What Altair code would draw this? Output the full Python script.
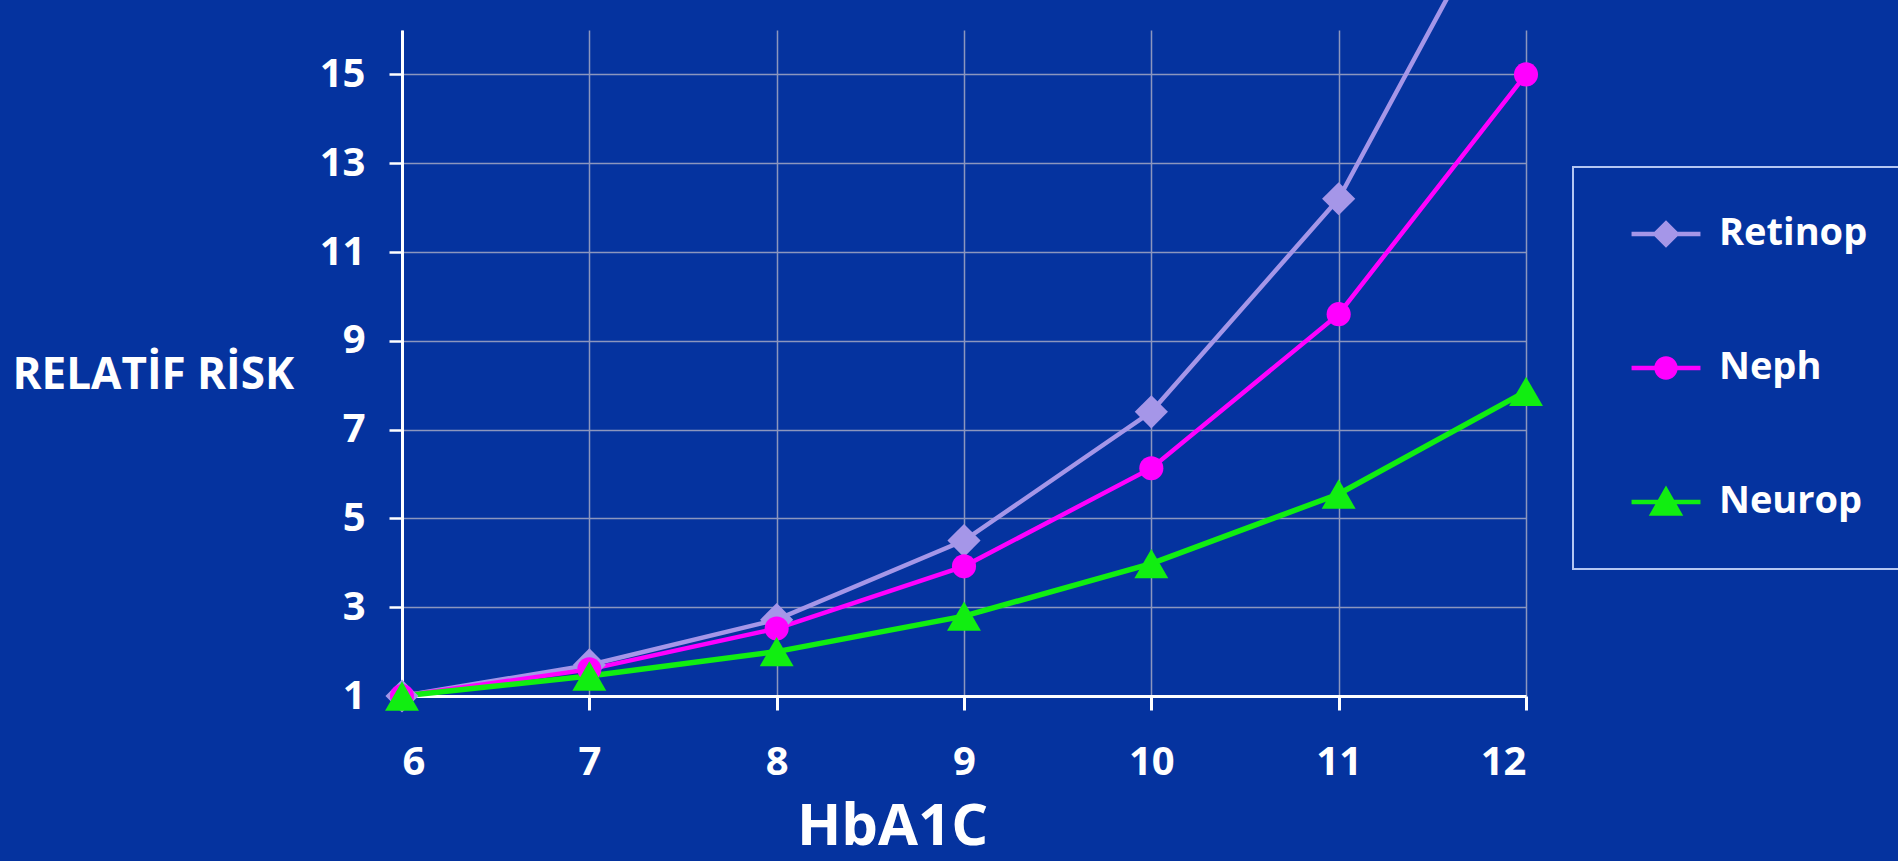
import altair as alt
import pandas as pd

# ---- data ----
hba1c = [6, 7, 8, 9, 10, 11, 12]
series = ["Retinop", "Neph", "Neurop"]
retinop = [1.0, 1.7, 2.72, 4.5, 7.4, 12.2, 20.0]
neph = [1.0, 1.6, 2.52, 3.92, 6.13, 9.6, 15.0]
neurop = [1.0, 1.45, 2.0, 2.8, 3.98, 5.55, 7.86]
y_ticks = [1, 3, 5, 7, 9, 11, 13, 15]

colors = ["#A596E8", "#FF00FF", "#11EE11"]
widths = [4.5, 4.5, 5.5]
shapes = ["diamond", "circle", "triangle-up"]
sizes = [1100, 580, 1150]

legend_paths = [
    "M0,-1L1,0L0,1L-1,0Z M-2.5,-0.17H2.5V0.17H-2.5Z",
    "M-0.85,0A0.85,0.85,0,1,1,0.85,0A0.85,0.85,0,1,1,-0.85,0Z M-2.5,-0.17H2.5V0.17H-2.5Z",
    "M0,-1.2L1.25,1L-1.25,1Z M-2.5,-0.17H2.5V0.17H-2.5Z",
]

rows = []
for name, vals in zip(series, [retinop, neph, neurop]):
    for x, v in zip(hba1c, vals):
        rows.append({"HbA1C": x, "risk": v, "series": name})
df = pd.DataFrame(rows)

FONT = "Open Sans"
W, H = 1124, 666

x_enc = alt.X(
    "HbA1C:Q",
    scale=alt.Scale(domain=[6, 12], nice=False, zero=False),
    axis=alt.Axis(
        values=hba1c, format="d", title="HbA1C",
        titleFontSize=58, titleFont=FONT, titleFontWeight="bold", titleColor="white",
        titleX=490, titleY=148, titleAlign="center", titleBaseline="alphabetic", titleAngle=0,
        labelFontSize=40, labelFont=FONT, labelFontWeight="bold", labelColor="white",
        labelPadding=32, tickSize=14, tickWidth=3, tickColor="white",
        domainColor="white", domainWidth=3,
        grid=True, gridColor="#8C96BE", gridWidth=1.5,
    ),
)
y_enc = alt.Y(
    "risk:Q",
    scale=alt.Scale(domain=[1, 16], nice=False, zero=False),
    axis=alt.Axis(
        values=y_ticks, format="d", title="RELATİF RİSK",
        titleFontSize=44, titleFont=FONT, titleFontWeight="bold", titleColor="white",
        titleAngle=0, titleX=-390, titleY=358, titleAlign="left", titleBaseline="alphabetic",
        labelFontSize=40, labelFont=FONT, labelFontWeight="bold", labelColor="white",
        labelPadding=24, tickSize=13, tickWidth=2.5, tickColor="white",
        domainColor="white", domainWidth=3,
        grid=True, gridColor="#8C96BE", gridWidth=1.5,
    ),
)

base = alt.Chart(df)
layers = []
for name, col, wd in zip(series, colors, widths):
    layers.append(
        base.transform_filter(alt.datum.series == name)
        .mark_line(clip=False, color=col, strokeWidth=wd)
        .encode(x=x_enc, y=y_enc, order=alt.Order("HbA1C:Q"))
    )
for name, col, shp, sz in zip(series, colors, shapes, sizes):
    layers.append(
        base.transform_filter(alt.datum.series == name)
        .mark_point(filled=True, opacity=1, strokeWidth=0, color=col, shape=shp, size=sz)
        .encode(x="HbA1C:Q", y="risk:Q")
    )

leg = alt.Legend(
    title=None, orient="none", legendX=1171, legendY=137,
    labelFont=FONT, labelFontSize=38, labelFontWeight="bold", labelColor="white",
    symbolSize=760, symbolStrokeWidth=0, symbolOffset=26, labelOffset=34,
    rowPadding=96, padding=48, strokeColor="#B4C6F2", cornerRadius=0,
)
legend_layer = base.transform_filter("false").mark_point(filled=True, opacity=1).encode(
    x="HbA1C:Q", y="risk:Q",
    color=alt.Color("series:N", scale=alt.Scale(domain=series, range=colors), legend=leg),
    shape=alt.Shape("series:N", scale=alt.Scale(domain=series, range=legend_paths), legend=leg),
)
layers.append(legend_layer)

chart = (
    alt.layer(*layers)
    .properties(
        width=W, height=H,
        autosize=alt.AutoSizeParams(type="none"),
        padding={"left": 402, "top": 30, "right": 372, "bottom": 165},
        background="#05339F",
    )
    .configure_view(stroke=None)
    .configure_legend(strokeWidth=2)
)

chart.save("out.html", embed_options={"renderer": "svg", "actions": False})
